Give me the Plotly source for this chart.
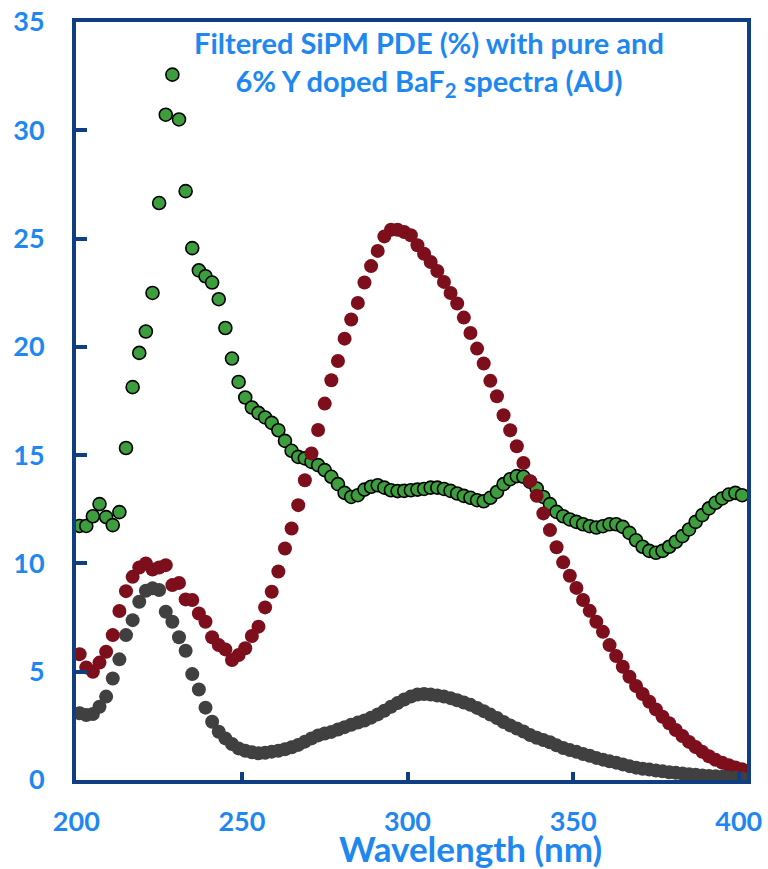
import plotly.graph_objects as go

# Wavelength grid (nm), 2 nm steps
wavelength = list(range(201, 402, 2))

# Filtered SiPM photon detection efficiency (%)
pde = [11.73, 11.73, 12.18, 12.74, 12.14, 11.77, 12.37, 15.33, 18.14, 19.72,
       20.71, 22.49, 26.64, 30.72, 32.57, 30.50, 27.19, 24.56, 23.53, 23.26,
       22.97, 22.20, 20.87, 19.46, 18.38, 17.66, 17.20, 16.95, 16.74, 16.49,
       16.15, 15.66, 15.20, 14.92, 14.85, 14.69, 14.54, 14.31, 14.00, 13.66,
       13.26, 13.07, 13.15, 13.41, 13.54, 13.61, 13.50, 13.38, 13.34, 13.35,
       13.38, 13.41, 13.44, 13.50, 13.50, 13.44, 13.35, 13.23, 13.12, 13.03,
       12.92, 12.87, 13.03, 13.30, 13.66, 13.89, 14.03, 14.00, 13.77, 13.46,
       13.07, 12.74, 12.38, 12.18, 12.03, 11.92, 11.81, 11.72, 11.66, 11.72,
       11.81, 11.81, 11.69, 11.41, 11.07, 10.77, 10.58, 10.49, 10.58, 10.77,
       11.00, 11.26, 11.57, 11.92, 12.23, 12.54, 12.80, 13.00, 13.18, 13.26,
       13.15]

# 6% Y doped BaF2 emission spectrum (AU)
baf2_y = [5.81, 5.20, 5.00, 5.42, 5.92, 6.69, 7.80, 8.72, 9.38, 9.81,
          10.00, 9.72, 9.81, 9.92, 9.00, 9.10, 8.34, 8.31, 7.69, 7.31,
          6.59, 6.23, 6.03, 5.54, 5.77, 6.08, 6.65, 7.08, 7.97, 8.69,
          9.63, 10.69, 11.61, 12.69, 13.84, 15.08, 16.16, 17.38, 18.46, 19.35,
          20.38, 21.26, 22.03, 22.97, 23.73, 24.43, 25.10, 25.41, 25.41, 25.30,
          25.15, 24.69, 24.30, 23.92, 23.50, 23.00, 22.49, 22.00, 21.35, 20.64,
          19.92, 19.23, 18.43, 17.72, 16.84, 16.15, 15.41, 14.64, 13.80, 13.12,
          12.31, 11.54, 10.75, 10.05, 9.43, 8.87, 8.31, 7.81, 7.31, 6.84,
          6.23, 5.72, 5.23, 4.77, 4.34, 3.97, 3.61, 3.26, 2.92, 2.62,
          2.31, 2.03, 1.76, 1.52, 1.30, 1.10, 0.93, 0.80, 0.68, 0.58,
          0.50]

# Pure BaF2 emission spectrum (AU)
baf2_pure = [3.08, 3.00, 3.05, 3.38, 3.85, 4.69, 5.57, 6.69, 7.38, 8.23,
             8.74, 8.85, 8.77, 7.77, 7.31, 6.59, 5.97, 4.89, 4.18, 3.34,
             2.69, 2.23, 1.92, 1.66, 1.46, 1.35, 1.28, 1.23, 1.26, 1.31,
             1.35, 1.42, 1.51, 1.62, 1.77, 1.92, 2.06, 2.15, 2.22, 2.33,
             2.44, 2.55, 2.65, 2.75, 2.88, 3.03, 3.20, 3.38, 3.55, 3.72,
             3.85, 3.95, 3.97, 3.95, 3.90, 3.85, 3.78, 3.68, 3.58, 3.47,
             3.33, 3.18, 3.02, 2.86, 2.68, 2.52, 2.38, 2.24, 2.08, 1.95,
             1.85, 1.74, 1.60, 1.48, 1.38, 1.30, 1.20, 1.12, 1.02, 0.94,
             0.86, 0.80, 0.72, 0.64, 0.57, 0.52, 0.48, 0.44, 0.40, 0.36,
             0.33, 0.30, 0.27, 0.24, 0.21, 0.19, 0.17, 0.15, 0.12, 0.10,
             0.07]

x_ticks = [200, 250, 300, 350, 400]
y_ticks = [0, 5, 10, 15, 20, 25, 30, 35]

TEXT_BLUE = "#1E88F0"
AXIS_BLUE = "#0F3E82"
FONT = "Lato"

fig = go.Figure()
fig.add_trace(go.Scatter(
    x=wavelength, y=pde, mode="markers", name="SiPM PDE",
    marker=dict(size=13, color="#3C9E3C", line=dict(color="#000000", width=1.6)),
))
fig.add_trace(go.Scatter(
    x=wavelength, y=baf2_y, mode="markers", name="6% Y doped BaF2",
    marker=dict(size=14, color="#7D0F1C", line=dict(width=0)),
))
fig.add_trace(go.Scatter(
    x=wavelength, y=baf2_pure, mode="markers", name="pure BaF2",
    marker=dict(size=14, color="#404040", line=dict(width=0)),
))

axis_common = dict(
    showgrid=False, zeroline=False, showline=True, mirror=True,
    linecolor=AXIS_BLUE, linewidth=4, automargin=False,
    ticks="inside", tickcolor=AXIS_BLUE, tickwidth=4,
    tickfont=dict(family=FONT, size=27, color=TEXT_BLUE, weight="bold"),
)

fig.update_xaxes(range=[199.9, 402.5], tickvals=x_ticks, ticklen=8,
                 ticklabelstandoff=15, **axis_common)
fig.update_yaxes(range=[0, 35], tickvals=y_ticks, ticklen=11,
                 ticklabelstandoff=22, **axis_common)

fig.add_annotation(
    xref="paper", yref="paper", x=0.526, y=0.9446, xanchor="center", yanchor="middle",
    text="Filtered SiPM PDE (%) with pure and<br>6% Y doped BaF<sub>2</sub> spectra (AU)",
    showarrow=False, align="center",
    font=dict(family=FONT, size=29, color=TEXT_BLUE, weight="bold"),
)
fig.add_annotation(
    xref="paper", yref="paper", x=0.5876, y=-0.0895, xanchor="center", yanchor="middle",
    text="Wavelength (nm)", showarrow=False,
    font=dict(family=FONT, size=35, color=TEXT_BLUE, weight="bold"),
)

fig.update_layout(
    width=768, height=869,
    margin=dict(l=76, r=21, t=22, b=89),
    paper_bgcolor="white", plot_bgcolor="white",
    showlegend=False,
)

fig.write_html("out.html")
